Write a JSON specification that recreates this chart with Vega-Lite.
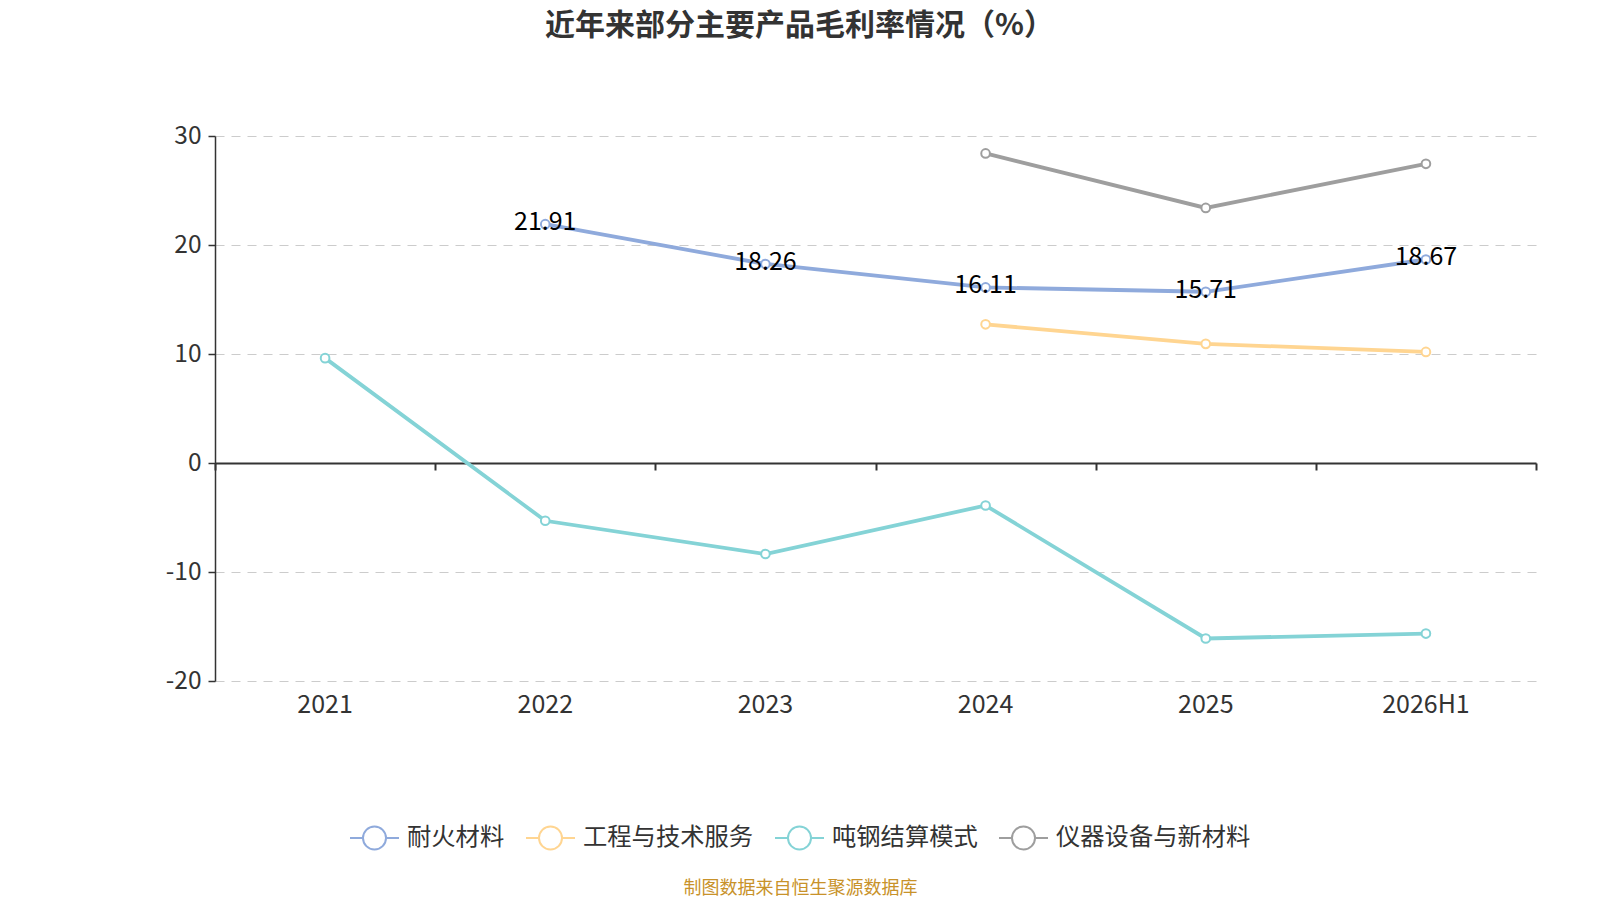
{
  "$schema": "https://vega.github.io/schema/vega-lite/v6.json",
  "width": 1321,
  "height": 545,
  "autosize": {"type": "none"},
  "padding": {"left": 215, "top": 136, "right": 64, "bottom": 219},
  "background": "white",
  "config": {
    "view": {"stroke": null},
    "font": "Noto Sans CJK SC"
  },
  "title": {
    "text": "近年来部分主要产品毛利率情况（%）",
    "fontSize": 30,
    "fontWeight": "bold",
    "color": "#333333",
    "font": "Noto Sans CJK SC",
    "anchor": "middle",
    "frame": "group",
    "dx": -76,
    "offset": 82
  },
  "data": {
    "values": [
      {"year": "2022", "series": "耐火材料", "value": 21.91},
      {"year": "2023", "series": "耐火材料", "value": 18.26},
      {"year": "2024", "series": "耐火材料", "value": 16.11},
      {"year": "2025", "series": "耐火材料", "value": 15.71},
      {"year": "2026H1", "series": "耐火材料", "value": 18.67},
      {"year": "2024", "series": "工程与技术服务", "value": 12.72},
      {"year": "2025", "series": "工程与技术服务", "value": 10.93},
      {"year": "2026H1", "series": "工程与技术服务", "value": 10.19},
      {"year": "2021", "series": "吨钢结算模式", "value": 9.62},
      {"year": "2022", "series": "吨钢结算模式", "value": -5.3},
      {"year": "2023", "series": "吨钢结算模式", "value": -8.35},
      {"year": "2024", "series": "吨钢结算模式", "value": -3.9},
      {"year": "2025", "series": "吨钢结算模式", "value": -16.1},
      {"year": "2026H1", "series": "吨钢结算模式", "value": -15.65},
      {"year": "2024", "series": "仪器设备与新材料", "value": 28.4},
      {"year": "2025", "series": "仪器设备与新材料", "value": 23.4},
      {"year": "2026H1", "series": "仪器设备与新材料", "value": 27.45}
    ]
  },
  "resolve": {"axis": {"x": "independent"}},
  "layer": [
    {
      "mark": {"type": "point", "opacity": 0},
      "encoding": {
        "x": {
          "field": "year",
          "type": "nominal",
          "sort": ["2021", "2022", "2023", "2024", "2025", "2026H1"],
          "scale": {"domain": ["2021", "2022", "2023", "2024", "2025", "2026H1"], "paddingInner": 0, "paddingOuter": 0},
          "axis": {
            "orient": "bottom",
            "offset": -218,
            "domain": true,
            "domainColor": "#333333",
            "domainWidth": 2,
            "ticks": true,
            "tickBand": "extent",
            "tickColor": "#333333",
            "tickWidth": 2,
            "tickSize": 7,
            "labels": false,
            "grid": false,
            "title": null
          }
        },
        "y": {"field": "value", "type": "quantitative"}
      }
    },
    {
      "encoding": {
        "x": {
          "field": "year",
          "type": "nominal",
          "sort": ["2021", "2022", "2023", "2024", "2025", "2026H1"],
          "scale": {"domain": ["2021", "2022", "2023", "2024", "2025", "2026H1"], "paddingInner": 0, "paddingOuter": 0},
          "axis": {
            "orient": "bottom",
            "domain": false,
            "ticks": false,
            "grid": false,
            "labelAngle": 0,
            "labelFontSize": 25,
            "labelColor": "#333333",
            "labelPadding": 11,
            "title": "制图数据来自恒生聚源数据库",
            "titleColor": "#C8922A",
            "titleFontSize": 18,
            "titleFontWeight": "normal",
            "titleX": 585,
            "titleY": 207,
            "titleBaseline": "middle",
            "titleAnchor": "middle"
          }
        },
        "y": {
          "field": "value",
          "type": "quantitative",
          "scale": {"domain": [-20, 30], "nice": false, "zero": false},
          "axis": {
            "values": [-20, -10, 0, 10, 20, 30],
            "labelExpr": "datum.value + ''",
            "title": null,
            "domain": true,
            "domainColor": "#333333",
            "domainWidth": 1.5,
            "ticks": true,
            "tickColor": "#333333",
            "tickSize": 7,
            "tickWidth": 1.5,
            "labelFontSize": 24.5,
            "labelColor": "#333333",
            "labelPadding": 7,
            "grid": true,
            "gridColor": "#cccccc",
            "gridDash": [9, 7],
            "gridWidth": 1.2
          }
        },
        "color": {
          "field": "series",
          "type": "nominal",
          "scale": {
            "domain": ["耐火材料", "工程与技术服务", "吨钢结算模式", "仪器设备与新材料"],
            "range": ["#8FAADC", "#FFD591", "#84D3D6", "#9E9E9E"]
          },
          "legend": {
            "orient": "none",
            "direction": "horizontal",
            "legendX": 134,
            "legendY": 676,
            "title": null,
            "symbolType": "M-1,0L-0.47,0M0.47,0L1,0M0.47,0A0.47,0.47 0 1,1 -0.47,0A0.47,0.47 0 1,1 0.47,0Z",
            "symbolSize": 2400,
            "symbolStrokeWidth": 2,
            "symbolFillColor": "white",
            "symbolOpacity": 1,
            "labelFontSize": 24.3,
            "labelColor": "#333333",
            "labelOffset": 7,
            "columnPadding": 17,
            "labelLimit": 400
          }
        }
      },
      "layer": [
        {
          "mark": {"type": "line", "strokeWidth": 3.8}
        },
        {
          "mark": {"type": "point", "filled": false, "fill": "white", "fillOpacity": 1, "size": 75, "strokeWidth": 2, "opacity": 1}
        },
        {
          "transform": [{"filter": "datum.series === '耐火材料'"}],
          "mark": {"type": "text", "fontSize": 25, "color": "#000000", "baseline": "middle", "align": "center", "dy": -2},
          "encoding": {
            "text": {"field": "value", "type": "quantitative", "format": ".2f"},
            "color": {"value": "#000000"}
          }
        }
      ]
    }
  ]
}
